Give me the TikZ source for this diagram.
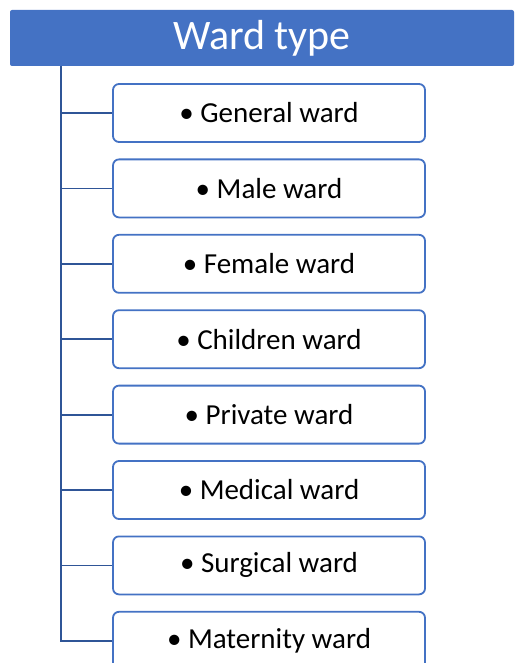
\documentclass[tikz,border=0pt]{standalone}
\usepackage{fontspec}
\setmainfont{Carlito}
\usetikzlibrary{positioning}
\definecolor{wardblue}{HTML}{4472C4}
\definecolor{linkblue}{HTML}{2F5597}

\begin{document}
\begin{tikzpicture}[
            x=1pt, y=1pt,
            node distance=15.6pt,
            header/.style={rectangle,rounded corners=2pt,fill=wardblue,text=white,minimum width=504pt,minimum height=56pt,inner sep=0pt,font=\fontsize{42}{50}\selectfont},
            wardbox/.style={rectangle,rounded corners=6pt,draw=wardblue,line width=1.8pt,fill=white,minimum width=312pt,minimum height=58pt,inner sep=0pt,font=\fontsize{29}{35}\selectfont},
            link/.style={draw=linkblue,line width=1.8pt}
          ]
          \useasboundingbox (0,0) rectangle (514,-663);
          \node[header] (head) at (262,-38) {Ward type};
          \node[wardbox] (general) at (269,-113) {• General ward};
          \node[wardbox, below=of general] (male) {• Male ward};
          \node[wardbox, below=of male] (female) {• Female ward};
          \node[wardbox, below=of female] (children) {• Children ward};
          \node[wardbox, below=of children] (private) {• Private ward};
          \node[wardbox, below=of private] (medical) {• Medical ward};
          \node[wardbox, below=of medical] (surgical) {• Surgical ward};
          \node[wardbox, below=of surgical] (maternity) {• Maternity ward};
          \coordinate (trunk) at (61,-66);
          \draw[link] (trunk) |- (maternity.west);
          \foreach \w in {general,male,female,children,private,medical,surgical}
            \draw[link] (trunk |- \w.west) -- (\w.west);
        \end{tikzpicture}
\end{document}
